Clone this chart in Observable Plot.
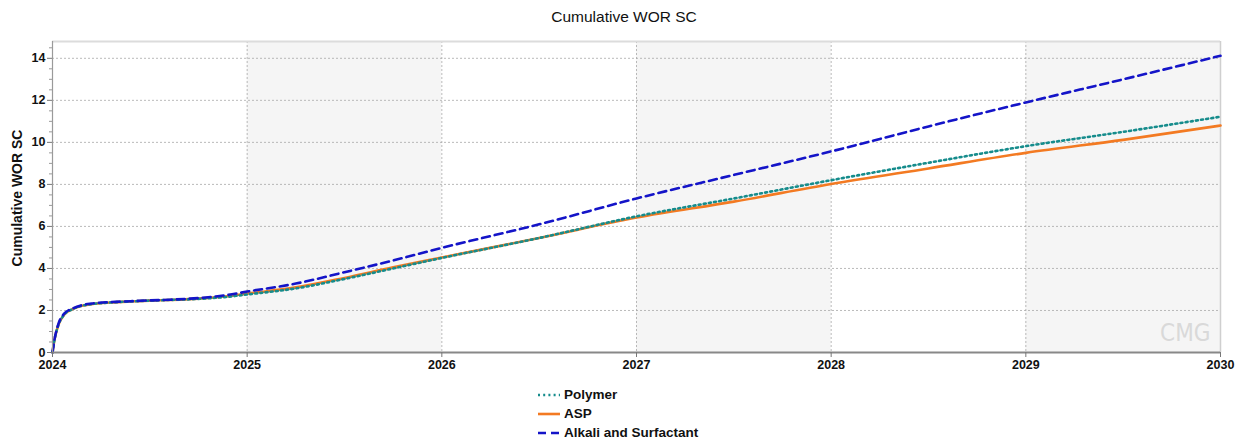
<!DOCTYPE html>
<html><head><meta charset="utf-8">
<script src="https://cdn.jsdelivr.net/npm/d3@7"></script>
<script src="https://cdn.jsdelivr.net/npm/@observablehq/plot@0.6"></script>
<style>
body{margin:0;background:#fff;font-family:"Liberation Sans",Arial,sans-serif;position:relative;width:1248px;}
#title{height:30px;line-height:34px;text-align:center;font-size:15.5px;color:#111;}
#ylabel{position:absolute;left:17px;top:198px;transform:translate(-50%,-50%) rotate(-90deg);white-space:nowrap;font-size:14px;font-weight:bold;color:#111;}
#legend{margin-left:538px;padding-top:3px;font-size:13.5px;font-weight:bold;color:#111;}
.item{display:flex;align-items:center;height:19px;}
.item svg{margin-right:4px}
</style></head><body>
<div id="title">Cumulative WOR SC</div>
<div id="ylabel">Cumulative WOR SC</div>
<div id="chart"></div>
<div id="legend"></div>
<script>
const years = [2024, 2024.01, 2024.03, 2024.06, 2024.1, 2024.15, 2024.2, 2024.3, 2024.4, 2024.5, 2024.6, 2024.7, 2024.8, 2024.9, 2025, 2025.25, 2025.5, 2025.75, 2026, 2026.5, 2027, 2027.5, 2028, 2028.5, 2029, 2029.5, 2030];
const polymer = [0, 0.6, 1.3, 1.8, 2.05, 2.22, 2.3, 2.38, 2.43, 2.47, 2.5, 2.53, 2.58, 2.65, 2.76, 3.05, 3.5, 4.0, 4.5, 5.45, 6.48, 7.33, 8.2, 9.03, 9.82, 10.5, 11.22];
const asp = [0, 0.6, 1.3, 1.8, 2.05, 2.22, 2.3, 2.38, 2.43, 2.47, 2.5, 2.54, 2.6, 2.68, 2.8, 3.1, 3.55, 4.05, 4.52, 5.45, 6.42, 7.18, 8.02, 8.76, 9.5, 10.12, 10.8];
const alkali = [0, 0.6, 1.35, 1.85, 2.08, 2.25, 2.33, 2.4, 2.44, 2.48, 2.51, 2.56, 2.63, 2.74, 2.9, 3.28, 3.82, 4.38, 4.98, 6.1, 7.33, 8.45, 9.57, 10.76, 11.9, 13.0, 14.12];
const seriesNames = ["Polymer", "ASP", "Alkali and Surfactant"];
const xTicks = [2024, 2025, 2026, 2027, 2028, 2029, 2030];
const yTicks = [0, 2, 4, 6, 8, 10, 12, 14];
const shadedYears = [2025, 2027, 2029];
const xDomain = [2024, 2030];
const yDomain = [0, 14.8];

const styles = {
  "Polymer": {stroke: "#168c8c", dash: "2,3.2", width: 2.6},
  "ASP": {stroke: "#f37a22", dash: null, width: 2.6},
  "Alkali and Surfactant": {stroke: "#1414c8", dash: "8,5", width: 2.6}
};
const seriesValues = {"Polymer": polymer, "ASP": asp, "Alkali and Surfactant": alkali};
const rows = s => years.map((t, i) => ({t, v: seriesValues[s][i]}));
const minorY = d3.range(yDomain[0], yDomain[1], 0.5).filter(v => !yTicks.includes(v));

const lineMark = s => Plot.line(rows(s), {x: "t", y: "v", stroke: styles[s].stroke, strokeWidth: styles[s].width, strokeDasharray: styles[s].dash, curve: "monotone-x"});

const chart = Plot.plot({
  width: 1248,
  height: 352,
  marginLeft: 52,
  marginRight: 28,
  marginTop: 11,
  marginBottom: 30,
  style: {fontFamily: "'Liberation Sans', Arial, sans-serif", fontSize: "12.5px", color: "#111", background: "#fff"},
  x: {domain: xDomain},
  y: {domain: yDomain},
  marks: [
    Plot.rect(shadedYears, {x1: d => d, x2: d => d + 1, y1: () => yDomain[0], y2: () => yDomain[1], fill: "#f5f5f5"}),
    Plot.gridY(yTicks.filter(v => v > 0), {stroke: "#a8a8a8", strokeOpacity: 1, strokeDasharray: "2,2", strokeWidth: 0.8}),
    Plot.gridX(xTicks.filter(v => v > xDomain[0] && v < xDomain[1]), {stroke: "#a8a8a8", strokeOpacity: 1, strokeDasharray: "2,2", strokeWidth: 0.8}),
    Plot.ruleY([yDomain[1]], {stroke: "#dcdcdc", strokeWidth: 2}),
    Plot.ruleX([xDomain[1]], {stroke: "#cfcfcf", strokeWidth: 1.5}),
    Plot.text(["CMG"], {frameAnchor: "bottom-right", dx: -10, dy: -12, fill: "#d9d9d9", fontSize: 24, fontFamily: "'Liberation Sans Narrow', 'DejaVu Sans Condensed', sans-serif", textAnchor: "end"}),
    lineMark("ASP"),
    lineMark("Polymer"),
    lineMark("Alkali and Surfactant"),
    Plot.ruleX([xDomain[0]], {stroke: "#9a9a9a", strokeWidth: 1.2}),
    Plot.ruleY([0], {stroke: "#888", strokeWidth: 2}),
    Plot.axisY(minorY, {tickSize: 3, tickFormat: () => "", stroke: "#999", label: null}),
    Plot.axisY(yTicks, {tickSize: 5, tickPadding: 2, tickFormat: d => String(d), fontWeight: "bold", stroke: "#777", label: null}),
    Plot.axisX(xTicks, {tickSize: 5, tickPadding: 3, tickFormat: d => String(d), fontWeight: "bold", stroke: "#777", label: null})
  ]
});
document.getElementById("chart").appendChild(chart);

const legend = document.getElementById("legend");
for (const s of seriesNames) {
  const st = styles[s];
  const item = document.createElement("div");
  item.className = "item";
  item.innerHTML = `<svg width="22" height="10"><line x1="0" y1="5" x2="22" y2="5" stroke="${st.stroke}" stroke-width="2.6" ${st.dash ? `stroke-dasharray="${st.dash}"` : ""}/></svg><span>${s}</span>`;
  legend.appendChild(item);
}
</script>
</body></html>
